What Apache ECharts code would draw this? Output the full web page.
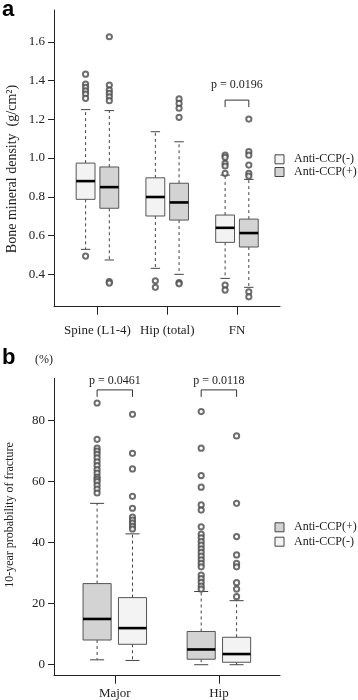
<!DOCTYPE html>
<html>
<head>
<meta charset="utf-8">
<script src="https://cdn.jsdelivr.net/npm/echarts@6/dist/echarts.min.js"></script>
<style>html,body{margin:0;padding:0;background:#fff}#c{width:358px;height:700px}</style>
</head>
<body>
<div id="c"></div>
<script>
// ---------- Panel a: bone mineral density ----------
const catA = ['Spine (L1-4)', 'Hip (total)', 'FN'];
const yTicksA = [0.4, 0.6, 0.8, 1.0, 1.2, 1.4, 1.6];
// [lower whisker, Q1, median, Q3, upper whisker]
const bmdNeg = [
  [0.529, 0.787, 0.881, 0.974, 1.250],
  [0.431, 0.701, 0.799, 0.898, 1.136],
  [0.379, 0.565, 0.640, 0.706, 0.912]
];
const bmdPos = [
  [0.474, 0.741, 0.850, 0.954, 1.245],
  [0.400, 0.680, 0.771, 0.870, 1.084],
  [0.333, 0.541, 0.613, 0.685, 0.890]
];
const bmdNegOut = [
  [0.494, 1.433, 1.382, 1.365, 1.347, 1.330, 1.308],
  [0.367, 0.333],
  [1.015, 1.004, 0.973, 0.959, 0.921, 0.345, 0.319]
];
const bmdPosOut = [
  [1.626, 1.377, 1.351, 1.334, 1.316, 1.296, 0.362, 0.355],
  [1.305, 1.282, 1.257, 1.210, 0.358, 0.351],
  [1.201, 1.033, 1.015, 0.964, 0.921, 0.907, 0.310, 0.284]
];
const pA = [{ cat: 3, y: 1.299, text: 'p = 0.0196' }];

// ---------- Panel b: 10-year probability of fracture ----------
const catB = ['Major', 'Hip'];
const yTicksB = [0, 20, 40, 60, 80];
const fracPos = [
  [1.6, 8.1, 15.0, 26.6, 52.9],
  [0.0, 1.8, 5.0, 10.9, 24.0]
];
const fracNeg = [
  [1.4, 6.7, 12.0, 22.0, 42.9],
  [0.0, 0.8, 3.5, 9.0, 21.0]
];
const fracPosOut = [
  [85.8, 73.9, 71.0, 70.0, 69.0, 67.8, 66.5, 65.3, 64.0, 62.8, 61.5, 60.8, 60.0, 58.8, 57.6, 56.3],
  [83.0, 71.0, 62.0, 58.2, 52.4, 50.7, 45.2, 42.8, 41.6, 40.4, 39.2, 38.0, 36.8, 35.6, 34.4, 33.2, 32.1, 29.4, 28.2, 27.0, 25.8, 24.8]
];
const fracNegOut = [
  [82.1, 69.3, 64.2, 55.2, 51.3, 48.4, 47.4, 46.4, 45.4, 44.5],
  [75.0, 52.9, 42.0, 36.0, 33.2, 32.1, 26.9, 24.8, 22.3]
];
const pB = [
  { cat: 1, y: 90.1, text: 'p = 0.0461' },
  { cat: 2, y: 90.1, text: 'p = 0.0118' }
];

const NEG = 'Anti-CCP(-)', POS = 'Anti-CCP(+)';
const FILL_NEG = '#f3f3f3', FILL_POS = '#d3d3d3';
const OFF = 0.17, BOX_W = 0.27;
const SERIF = "'Liberation Serif','DejaVu Serif',serif";

function boxData(stats, off) {
  return stats.map((s, i) => [i + 1 + off].concat(s));
}
function outData(outs, off) {
  const r = [];
  outs.forEach((arr, i) => arr.forEach(v => r.push([i + 1 + off, v])));
  return r;
}
function boxRender(params, api) {
  const x = api.value(0);
  const lo = api.coord([x, api.value(1)]);
  const q1 = api.coord([x, api.value(2)]);
  const md = api.coord([x, api.value(3)]);
  const q3 = api.coord([x, api.value(4)]);
  const hi = api.coord([x, api.value(5)]);
  const bw = api.size([BOX_W, 0])[0];
  const cx = lo[0];
  const wStyle = { stroke: '#444', lineWidth: 1, lineDash: [3, 3] };
  const cStyle = { stroke: '#444', lineWidth: 1 };
  return {
    type: 'group',
    children: [
      { type: 'line', shape: { x1: cx, y1: q3[1], x2: cx, y2: hi[1] }, style: wStyle },
      { type: 'line', shape: { x1: cx, y1: q1[1], x2: cx, y2: lo[1] }, style: wStyle },
      { type: 'line', shape: { x1: cx - bw / 4, y1: hi[1], x2: cx + bw / 4, y2: hi[1] }, style: cStyle },
      { type: 'line', shape: { x1: cx - bw / 4, y1: lo[1], x2: cx + bw / 4, y2: lo[1] }, style: cStyle },
      { type: 'rect', shape: { x: cx - bw / 2, y: q3[1], width: bw, height: q1[1] - q3[1] },
        style: { fill: api.visual('color'), stroke: '#555', lineWidth: 1 } },
      { type: 'line', shape: { x1: cx - bw / 2, y1: md[1], x2: cx + bw / 2, y2: md[1] },
        style: { stroke: '#000', lineWidth: 2.6 } }
    ]
  };
}
function makePRender(texts, textGap) {
  return function (params, api) {
    const c = api.value(0);
    const yv = api.value(1);
    const a = api.coord([c - OFF, yv]);
    const b = api.coord([c + OFF, yv]);
    return {
      type: 'group',
      children: [
        { type: 'polyline', shape: { points: [[a[0], a[1] + 7], [a[0], a[1]], [b[0], b[1]], [b[0], b[1] + 7]] },
          style: { stroke: '#333', lineWidth: 1, fill: null } },
        { type: 'text', style: { x: (a[0] + b[0]) / 2, y: a[1] - textGap, text: texts[params.dataIndex],
          fontFamily: SERIF, fontSize: 12, fill: '#222', align: 'center', verticalAlign: 'bottom' } }
      ]
    };
  };
}
function outSeries(data, xi, yi) {
  return {
    type: 'scatter', xAxisIndex: xi, yAxisIndex: yi, data: data,
    symbol: 'emptyCircle', symbolSize: 5.2, silent: true,
    itemStyle: { color: '#4a4a4a', borderWidth: 0.7 }, z: 3
  };
}
function boxSeries(name, data, color, xi, yi) {
  return {
    type: 'custom', name: name, xAxisIndex: xi, yAxisIndex: yi, data: data,
    encode: { x: 0, y: [1, 2, 3, 4, 5] }, renderItem: boxRender,
    itemStyle: { color: color }, silent: true, z: 2
  };
}
function yAxisCfg(gi, min, max, ticks, fmt) {
  return {
    type: 'value', gridIndex: gi, min: min, max: max,
    axisLine: { show: true, lineStyle: { color: '#222', width: 1 } },
    axisTick: { show: true, length: 6, customValues: ticks, lineStyle: { color: '#222' } },
    axisLabel: { customValues: ticks, margin: 9, fontFamily: SERIF, fontSize: 13, color: '#222', formatter: fmt },
    splitLine: { show: false }
  };
}
function xAxisCfg(gi, min, max, cats, margin) {
  const vals = cats.map((c, i) => i + 1);
  return {
    type: 'value', gridIndex: gi, min: min, max: max,
    axisLine: { show: true, onZero: false, lineStyle: { color: '#222', width: 1 } },
    axisTick: { show: true, length: 8, customValues: vals, lineStyle: { color: '#222' } },
    axisLabel: { customValues: vals, margin: margin, fontFamily: SERIF, fontSize: 13, color: '#222',
      formatter: v => cats[Math.round(v) - 1] },
    splitLine: { show: false }
  };
}
function legendCfg(items, top, gap) {
  return {
    orient: 'vertical', left: 274.5, top: top, padding: 0, itemWidth: 9, itemHeight: 9, itemGap: gap,
    selectedMode: false, icon: 'rect',
    textStyle: { fontFamily: SERIF, fontSize: 12, lineHeight: 12, color: '#222', padding: [0, 0, 0, 5] },
    data: items.map(it => ({ name: it[0], itemStyle: { color: it[1], borderColor: '#444', borderWidth: 1 } }))
  };
}
function rotText(x, y, text, size) {
  return { type: 'text', x: x, y: y, rotation: Math.PI / 2,
    style: { text: text, font: size + "px 'Liberation Serif', serif", fill: '#222', align: 'center', verticalAlign: 'middle' } };
}

const option = {
  animation: false,
  backgroundColor: '#fff',
  grid: [
    { left: 54, top: 10, width: 226, height: 296.7 },
    { left: 54, top: 378.3, width: 226, height: 297.4 }
  ],
  xAxis: [
    xAxisCfg(0, 0.377, 3.617, catA, 17),
    xAxisCfg(1, 0.416, 2.587, catB, 11)
  ],
  yAxis: [
    yAxisCfg(0, 0.233, 1.764, yTicksA, v => v.toFixed(1)),
    yAxisCfg(1, -3.6, 93.9, yTicksB, v => String(v))
  ],
  legend: [
    legendCfg([[NEG, FILL_NEG], [POS, FILL_POS]], 153.3, 0.7),
    legendCfg([[POS, FILL_POS], [NEG, FILL_NEG]], 521.3, 2.4)
  ],
  graphic: [
    { type: 'text', left: 2, top: -1, style: { text: 'a', font: "bold 22px 'Liberation Sans', Arial, sans-serif", fill: '#000' } },
    { type: 'text', left: 2, top: 347, style: { text: 'b', font: "bold 22px 'Liberation Sans', Arial, sans-serif", fill: '#000' } },
    { type: 'text', left: 35, top: 354, style: { text: '(%)', font: "12px 'Liberation Serif', serif", fill: '#222' } },
    rotText(12.5, 169, 'Bone mineral density  (g/cm\u00B2)', 14),
    rotText(10, 515, '10-year probability of fracture', 12)
  ],
  series: [
    boxSeries(NEG, boxData(bmdNeg, -OFF), FILL_NEG, 0, 0),
    boxSeries(POS, boxData(bmdPos, OFF), FILL_POS, 0, 0),
    outSeries(outData(bmdNegOut, -OFF), 0, 0),
    outSeries(outData(bmdPosOut, OFF), 0, 0),
    { type: 'custom', xAxisIndex: 0, yAxisIndex: 0, data: pA.map(p => [p.cat, p.y]),
      encode: { x: 0, y: 1 }, renderItem: makePRender(pA.map(p => p.text), 9), silent: true },
    boxSeries(POS, boxData(fracPos, -OFF), FILL_POS, 1, 1),
    boxSeries(NEG, boxData(fracNeg, OFF), FILL_NEG, 1, 1),
    outSeries(outData(fracPosOut, -OFF), 1, 1),
    outSeries(outData(fracNegOut, OFF), 1, 1),
    { type: 'custom', xAxisIndex: 1, yAxisIndex: 1, data: pB.map(p => [p.cat, p.y]),
      encode: { x: 0, y: 1 }, renderItem: makePRender(pB.map(p => p.text), 3), silent: true }
  ]
};
const chart = echarts.init(document.getElementById('c'), null, { renderer: 'canvas' });
chart.setOption(option);
</script>
</body>
</html>
